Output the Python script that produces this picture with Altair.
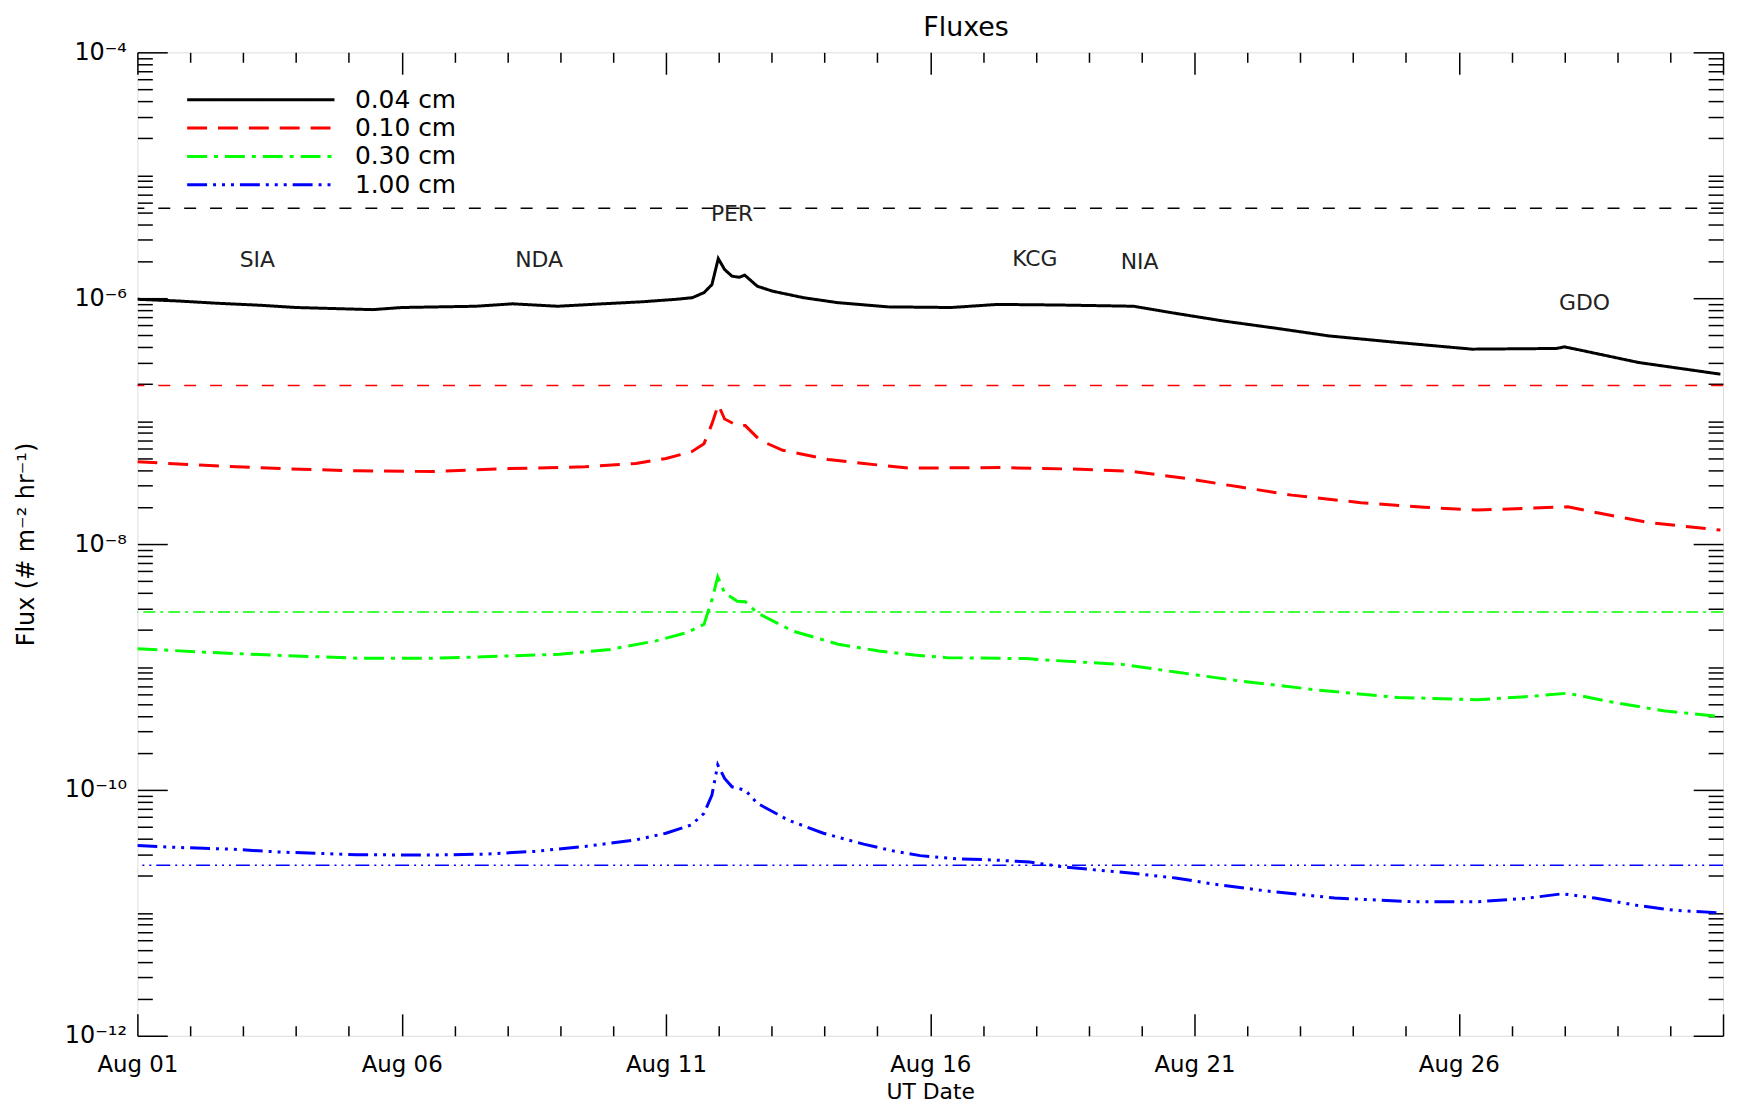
import altair as alt
import pandas as pd

FONT = "DejaVu Sans"
YEAR = 2023
W, H = 1593, 988

SERIES = ["0.04 cm", "0.10 cm", "0.30 cm", "1.00 cm"]
COLORS = ["#000000", "#ff0000", "#00ff00", "#0000ff"]
DASHES = [[1, 0], [20, 11], [20, 7, 4, 7], [20, 6, 3, 6, 3, 6, 3, 6]]
REF_DASHES = [[12, 14], [12, 14], [12, 5, 3, 5], [14, 5, 2, 5, 2, 5, 2, 5]]

# days after Aug 01 00:00 UT and flux (# m^-2 hr^-1)
black_days = [0.0, 0.75, 1.5, 2.35, 3.0, 4.45, 5.0, 6.4, 7.1, 7.95, 8.8, 9.55, 10.2, 10.5,
              10.72, 10.87, 10.99, 11.11, 11.25, 11.39, 11.49, 11.73, 12.02, 12.6, 13.25,
              14.2, 15.4, 16.27, 17.45, 18.85, 19.55, 20.55, 21.55, 22.55, 23.85,
              25.25, 26.85, 27.0, 27.3, 28.4, 29.95]
black_flux = [9.8e-7, 9.5e-7, 9.1e-7, 8.75e-7, 8.4e-7, 8.07e-7, 8.4e-7, 8.6e-7, 9.0e-7, 8.6e-7,
              9.0e-7, 9.35e-7, 9.8e-7, 1.01e-6, 1.11e-6, 1.29e-6, 2.1e-6, 1.71e-6, 1.51e-6,
              1.48e-6, 1.54e-6, 1.25e-6, 1.14e-6, 1.01e-6, 9.2e-7, 8.5e-7, 8.4e-7, 8.9e-7,
              8.8e-7, 8.6e-7, 7.64e-7, 6.52e-7, 5.69e-7, 4.93e-7, 4.36e-7, 3.85e-7,
              3.9e-7, 4.02e-7, 3.78e-7, 3.0e-7, 2.41e-7]

red_days = [0.0, 1.27, 2.71, 4.15, 5.58, 7.03, 8.47, 9.43, 10.0, 10.48, 10.72, 10.87, 10.99,
            11.11, 11.35, 11.5, 11.78, 12.21, 13.07, 13.74, 14.6, 16.32, 17.83, 18.83, 19.83,
            20.84, 21.84, 23.15, 24.35, 25.35, 26.36, 27.06, 27.67, 28.57, 29.95]
red_flux = [4.67e-8, 4.37e-8, 4.11e-8, 3.94e-8, 3.89e-8, 4.11e-8, 4.25e-8, 4.52e-8, 4.97e-8,
            5.62e-8, 6.56e-8, 9.5e-8, 1.36e-7, 1.04e-7, 9.2e-8, 9.2e-8, 6.98e-8, 5.79e-8,
            4.87e-8, 4.52e-8, 4.15e-8, 4.19e-8, 4.06e-8, 3.9e-8, 3.42e-8, 2.92e-8, 2.5e-8,
            2.17e-8, 1.99e-8, 1.89e-8, 1.96e-8, 2.01e-8, 1.78e-8, 1.5e-8, 1.3e-8]

green_days = [0.0, 1.27, 2.71, 4.15, 5.58, 6.55, 7.99, 8.95, 9.81, 10.39, 10.72, 10.87, 10.98,
              11.11, 11.35, 11.5, 11.73, 12.4, 13.26, 14.03, 14.7, 15.32, 16.82, 17.33, 18.63,
              19.64, 20.84, 22.35, 23.85, 25.36, 26.36, 27.06, 27.87, 28.87, 29.95]
green_flux = [1.41e-9, 1.32e-9, 1.24e-9, 1.18e-9, 1.18e-9, 1.21e-9, 1.27e-9, 1.39e-9, 1.63e-9,
              1.9e-9, 2.22e-9, 3.54e-9, 5.4e-9, 4.0e-9, 3.43e-9, 3.4e-9, 2.75e-9, 1.96e-9,
              1.53e-9, 1.35e-9, 1.25e-9, 1.19e-9, 1.17e-9, 1.13e-9, 1.05e-9, 9.1e-10, 7.71e-10,
              6.48e-10, 5.65e-10, 5.42e-10, 5.77e-10, 6.12e-10, 5.21e-10, 4.4e-10, 3.96e-10]

blue_days = [0.0, 0.79, 1.75, 2.71, 4.15, 5.58, 6.55, 7.51, 8.47, 9.43, 10.0, 10.48, 10.72,
             10.87, 10.98, 11.11, 11.25, 11.5, 11.73, 12.31, 12.98, 13.74, 14.31, 14.81, 15.52,
             16.22, 16.88, 17.53, 18.83, 19.64, 20.34, 21.34, 22.65, 24.15, 25.35, 26.26,
             26.96, 27.57, 28.37, 29.07, 29.95]
blue_flux = [3.53e-11, 3.4e-11, 3.3e-11, 3.12e-11, 2.97e-11, 2.95e-11, 3.0e-11, 3.16e-11,
             3.47e-11, 3.92e-11, 4.44e-11, 5.19e-11, 6.44e-11, 9.08e-11, 1.6e-10, 1.24e-10,
             1.06e-10, 9.95e-11, 7.78e-11, 5.69e-11, 4.44e-11, 3.62e-11, 3.18e-11, 2.92e-11,
             2.75e-11, 2.69e-11, 2.59e-11, 2.36e-11, 2.1e-11, 1.92e-11, 1.72e-11, 1.51e-11,
             1.32e-11, 1.23e-11, 1.23e-11, 1.31e-11, 1.43e-11, 1.32e-11, 1.15e-11, 1.05e-11,
             1.0e-11]

ref_flux = [5.4e-6, 1.95e-7, 2.8e-9, 2.44e-11]

events = ["SIA", "NDA", "PER", "KCG", "NIA", "GDO"]
event_days = [2.27, 7.6, 11.25, 16.98, 18.96, 27.38]
event_flux = [2.06e-6, 2.06e-6, 4.8e-6, 2.1e-6, 1.98e-6, 9.2e-7]

label_days = [1, 6, 11, 16, 21, 26]
tick_days = list(range(1, 32))
label_exps = [-4, -6, -8, -10, -12]
decades = list(range(-12, -4))
mults = list(range(1, 10))

base = pd.Timestamp(f"{YEAR}-08-01")


def when(days):
    return (base + pd.to_timedelta(days, unit="D")).round("s")


frames = []
for name, d, f in zip(SERIES, [black_days, red_days, green_days, blue_days],
                      [black_flux, red_flux, green_flux, blue_flux]):
    frames.append(pd.DataFrame({"time": when(d), "flux": f, "series": name}))
lines_df = pd.concat(frames, ignore_index=True)
ref_df = pd.DataFrame({"series": SERIES, "flux": ref_flux})
ev_df = pd.DataFrame({"time": when(event_days), "flux": event_flux, "name": events})

xscale = alt.Scale(domain=[alt.DateTime(year=YEAR, month=8, date=1),
                           alt.DateTime(year=YEAR, month=8, date=31)], nice=False)
yscale = alt.Scale(type="log", domain=[1e-12, 1e-4], nice=False)

sup = str.maketrans("-0123456789", "\u207b\u2070\u00b9\u00b2\u00b3\u2074\u2075\u2076\u2077\u2078\u2079")
expr = "''"
for e in label_exps:
    expr = f"round(log(datum.value)/LN10) == {e} ? '10{str(e).translate(sup)}' : ({expr})"

label_dates = [alt.DateTime(year=YEAR, month=8, date=d) for d in label_days]
tick_dates = [alt.DateTime(year=YEAR, month=8, date=d) for d in tick_days]
y_ticks = [m * 10.0 ** k for k in decades for m in mults] + [1e-4]

x_major = "date(datum.value) % 5 == 1"
y_major = ("abs(log(datum.value)/LN10 - round(log(datum.value)/LN10)) < 0.01"
           " && round(log(datum.value)/LN10) % 2 == 0")

leg = alt.Legend(title=None, orient="none", legendX=48.5, legendY=34.6, symbolType="stroke",
                 symbolSize=148 ** 2, symbolStrokeWidth=3, clipHeight=26, rowPadding=2.5,
                 labelFontSize=25, labelFont=FONT, labelColor="black", labelOffset=19,
                 padding=0, symbolOpacity=1)
color = alt.Color("series:N", scale=alt.Scale(domain=SERIES, range=COLORS), legend=leg)
dash = alt.StrokeDash("series:N", scale=alt.Scale(domain=SERIES, range=DASHES), legend=leg)

x_label_axis = alt.Axis(values=label_dates, format="%b %d", ticks=False, tickSize=0, domain=False,
                        grid=False, labelFontSize=23, labelFont=FONT, labelColor="black",
                        labelPadding=18, labelFlush=False, title="UT Date", titleFont=FONT,
                        titleFontSize=22, titleFontWeight="normal", titleColor="black",
                        titleY=56, titleBaseline="middle")
y_label_axis = alt.Axis(values=[10.0 ** e for e in label_exps], labelExpr=expr, ticks=False,
                        tickSize=0, domain=False, grid=False, labelFontSize=24, labelFont=FONT,
                        labelColor="black", labelPadding=11, labelFlush=False,
                        labelOverlap=False, title="Flux (# m\u207b\u00b2 hr\u207b\u00b9)",
                        titleFont=FONT, titleFontSize=24, titleFontWeight="normal",
                        titleColor="black", titleX=-111, titleY=H / 2, titleAngle=-90,
                        titleAlign="center", titleBaseline="middle")


def tick_axis_x(orient):
    return alt.Axis(orient=orient, offset=-H, values=tick_dates, labels=False, domain=False,
                    grid=False, title=None, tickColor="black", tickWidth=1.5,
                    tickSize={"condition": {"test": x_major, "value": 22}, "value": 10})


def tick_axis_y(orient):
    return alt.Axis(orient=orient, offset=-W, values=y_ticks, labels=False, domain=False,
                    grid=False, title=None, tickColor="black", tickWidth=1.5,
                    tickSize={"condition": {"test": y_major, "value": 30}, "value": 15})


lines = alt.Chart(lines_df).mark_line(strokeWidth=3, clip=True).encode(
    x=alt.X("time:T", scale=xscale, axis=x_label_axis),
    y=alt.Y("flux:Q", scale=yscale, axis=y_label_axis),
    color=color, strokeDash=dash, order=alt.Order("time:T"))

refs = [
    alt.Chart(ref_df[ref_df["series"] == s]).mark_rule(strokeWidth=1.5, color=c, strokeDash=d).encode(
        y=alt.Y("flux:Q", scale=yscale, axis=None))
    for s, c, d in zip(SERIES, COLORS, REF_DASHES)
]

ev = alt.Chart(ev_df).mark_text(font=FONT, fontSize=22, color="#222222", align="center",
                                baseline="middle").encode(
    x=alt.X("time:T", scale=xscale, axis=None),
    y=alt.Y("flux:Q", scale=yscale, axis=None), text="name:N")

ticks_a = alt.Chart(lines_df).mark_point(opacity=0).encode(
    x=alt.X("time:T", scale=xscale, axis=tick_axis_x("top")),
    y=alt.Y("flux:Q", scale=yscale, axis=tick_axis_y("right")))
ticks_b = alt.Chart(lines_df).mark_point(opacity=0).encode(
    x=alt.X("time:T", scale=xscale, axis=tick_axis_x("bottom")),
    y=alt.Y("flux:Q", scale=yscale, axis=tick_axis_y("left")))

chart = alt.layer(*refs, lines, ev, ticks_a, ticks_b).resolve_axis(
    x="independent", y="independent"
).properties(
    width=W, height=H,
    title=alt.TitleParams("Fluxes", font=FONT, fontSize=27, fontWeight="normal", color="black",
                          anchor="middle", frame="group", offset=10, dx=36, dy=12),
    autosize=alt.AutoSizeParams(type="none"),
    padding={"left": 130, "top": 42, "right": 7, "bottom": 65},
).configure_view(stroke="black", strokeWidth=2).configure(background="white")

chart.save("out.html", embed_options={"renderer": "svg", "actions": False})
